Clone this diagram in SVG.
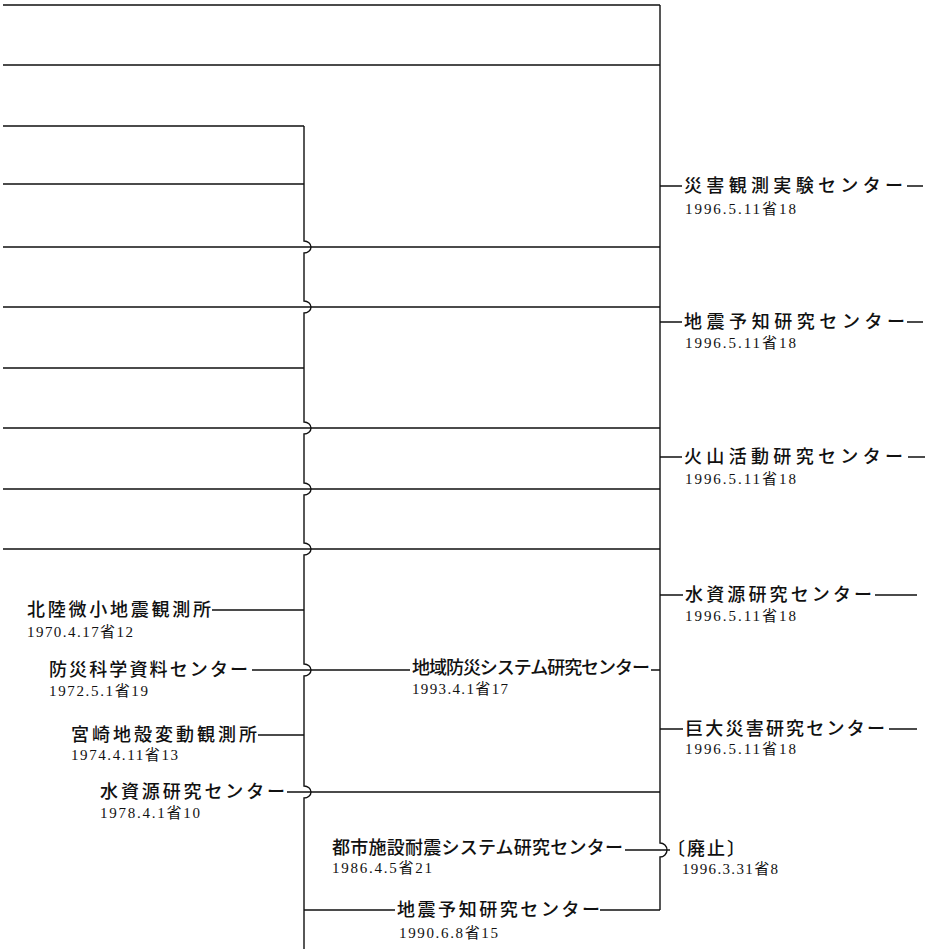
<svg xmlns="http://www.w3.org/2000/svg" width="927" height="949" viewBox="0 0 927 949">
<style>
.ln{fill:none;stroke:#111;stroke-width:1.4}
.lb{font-family:"Noto Sans CJK JP","Noto Sans CJK SC",sans-serif;font-size:18px;font-weight:500;fill:#111}
.dt{font-family:"Liberation Serif","Noto Sans CJK JP",serif;font-size:15px;fill:#111}
</style>
<rect width="927" height="949" fill="#fff"/>
<g id="connectors" class="ln">
<path d="M3 5H660M3 65H660M3 126H304M3 184H304M3 247H660M3 307H660M3 368H304M3 428H660M3 489H660M3 549H660"/>
<path d="M304 126V241A7 6 0 0 1 304 253V301A7 6 0 0 1 304 313V422A7 6 0 0 1 304 434V483A7 6 0 0 1 304 495V543A7 6 0 0 1 304 555V664A7 6 0 0 1 304 676V786A7 6 0 0 1 304 798V949"/>
<path d="M660 5V843A7 7 0 0 1 660 857V910"/>
<path d="M660 186H682M907 186H923M660 322H682M907 322H923M660 457H682M908 457H925M660 595H683M875 595H917M660 729H683M889 729H917"/>
<path d="M212 610H304M252 670H410M651 670H660M258 735H304M287 792H660M625 850H670M304 910H395M600 910H660"/>
</g>
<g id="n-saigai"><text class="lb" x="684" y="192" textLength="219" lengthAdjust="spacing">災害観測実験センター</text><text class="dt" x="685" y="214" textLength="111" lengthAdjust="spacing">1996.5.11省18</text></g>
<g id="n-jishin-r"><text class="lb" x="684" y="328" textLength="221" lengthAdjust="spacing">地震予知研究センター</text><text class="dt" x="685" y="348" textLength="111" lengthAdjust="spacing">1996.5.11省18</text></g>
<g id="n-kazan"><text class="lb" x="684" y="463" textLength="219" lengthAdjust="spacing">火山活動研究センター</text><text class="dt" x="685" y="484" textLength="111" lengthAdjust="spacing">1996.5.11省18</text></g>
<g id="n-mizu-r"><text class="lb" x="685" y="601" textLength="187" lengthAdjust="spacing">水資源研究センター</text><text class="dt" x="685" y="621" textLength="111" lengthAdjust="spacing">1996.5.11省18</text></g>
<g id="n-kyodai"><text class="lb" x="685" y="735" textLength="200" lengthAdjust="spacing">巨大災害研究センター</text><text class="dt" x="685" y="754" textLength="111" lengthAdjust="spacing">1996.5.11省18</text></g>
<g id="n-haishi"><text class="lb" x="667" y="855" textLength="78" lengthAdjust="spacing">〔廃止〕</text><text class="dt" x="682" y="874" textLength="96" lengthAdjust="spacing">1996.3.31省8</text></g>
<g id="n-hokuriku"><text class="lb" x="27" y="616" textLength="184" lengthAdjust="spacing">北陸微小地震観測所</text><text class="dt" x="27" y="637" textLength="106" lengthAdjust="spacing">1970.4.17省12</text></g>
<g id="n-bousai"><text class="lb" x="49" y="676" textLength="199" lengthAdjust="spacing">防災科学資料センター</text><text class="dt" x="49" y="696" textLength="99" lengthAdjust="spacing">1972.5.1省19</text></g>
<g id="n-miyazaki"><text class="lb" x="71" y="741" textLength="186" lengthAdjust="spacing">宮崎地殻変動観測所</text><text class="dt" x="71" y="760" textLength="107" lengthAdjust="spacing">1974.4.11省13</text></g>
<g id="n-mizu-l"><text class="lb" x="100" y="798" textLength="185" lengthAdjust="spacing">水資源研究センター</text><text class="dt" x="100" y="818" textLength="100" lengthAdjust="spacing">1978.4.1省10</text></g>
<g id="n-chiiki"><text class="lb" x="412" y="674" textLength="238" lengthAdjust="spacing">地域防災システム研究センター</text><text class="dt" x="412" y="694" textLength="96" lengthAdjust="spacing">1993.4.1省17</text></g>
<g id="n-toshi"><text class="lb" x="332" y="854" textLength="291" lengthAdjust="spacing">都市施設耐震システム研究センター</text><text class="dt" x="332" y="873" textLength="100" lengthAdjust="spacing">1986.4.5省21</text></g>
<g id="n-jishin-b"><text class="lb" x="397" y="916" textLength="203" lengthAdjust="spacing">地震予知研究センター</text><text class="dt" x="399" y="938" textLength="99" lengthAdjust="spacing">1990.6.8省15</text></g>
</svg>
